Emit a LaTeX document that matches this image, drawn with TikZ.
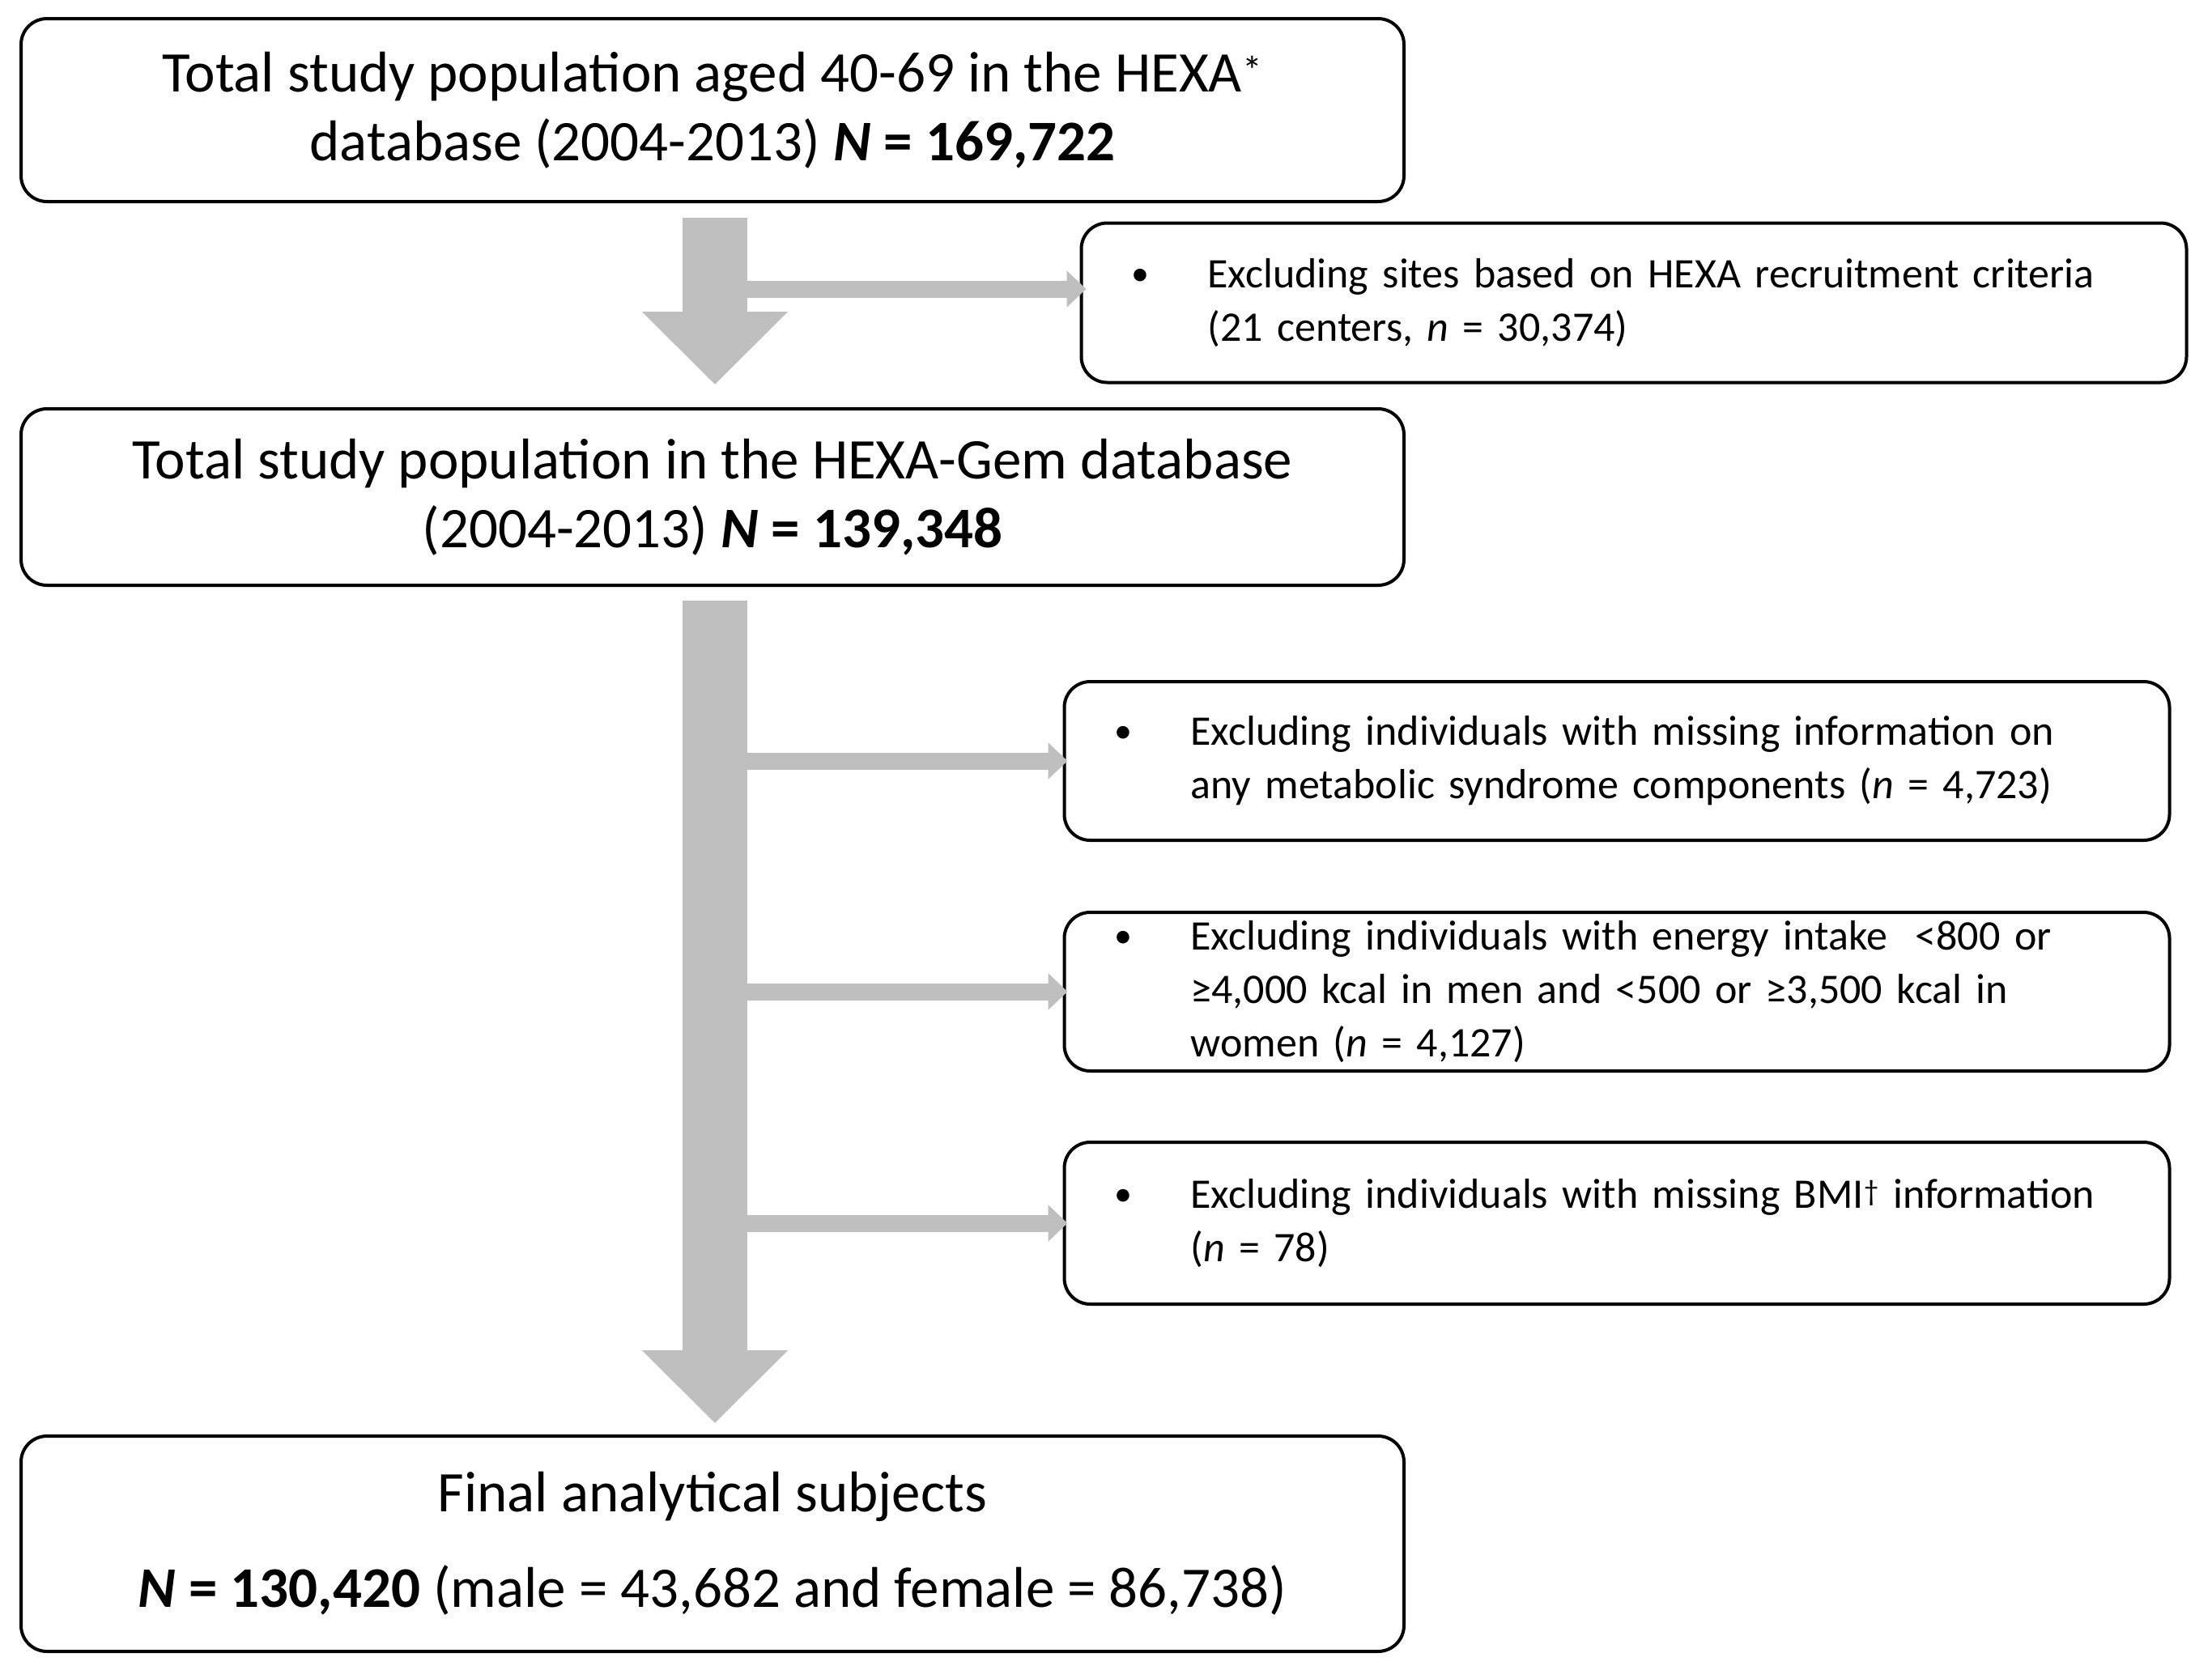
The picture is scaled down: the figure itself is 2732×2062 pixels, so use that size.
\documentclass[tikz,border=0pt]{standalone}
\usepackage{fontspec}
\setmainfont{Carlito}
\usetikzlibrary{arrows.meta,calc}
\definecolor{arrowgray}{HTML}{BFBFBF}
\tikzset{
 mainbox/.style={draw=black, line width=4pt, rounded corners=32pt, minimum width=1708pt, inner xsep=20pt, inner ysep=10pt, align=center, font=\fontsize{71}{85}\selectfont},
 exbox/.style={draw=black, line width=4pt, rounded corners=32pt, minimum width=1365pt, minimum height=196pt, inner xsep=60pt, inner ysep=10pt, text width=1245pt, align=left, font=\fontsize{52}{66}\selectfont},
 bigarrow/.style={draw=arrowgray, line width=80pt, -{Triangle[width=175pt,length=90pt,fill=arrowgray]}},
 sidearrow/.style={draw=arrowgray, line width=21pt, -{Triangle[width=44pt,length=24pt,fill=arrowgray]}},
}
\newcommand{\bul}{\makebox[96pt][l]{\hspace*{2pt}{\fontsize{44}{44}\selectfont\raisebox{3pt}{•}}}}
\newcommand{\ind}{\hspace*{96pt}}
\begin{document}
\begin{tikzpicture}[x=1pt,y=-1pt]
\useasboundingbox[fill=white] (0,0) rectangle (2732,2062);
\node[mainbox, minimum height=226pt] (b1) at (880,136) {Total study population aged 40-69 in the HEXA\textsuperscript{*}\\database (2004-2013) \textbf{\textit{N} = 169,722}};
\node[exbox, minimum width=1363pt, minimum height=197pt] (b2) at (2018,374) {\bul Excluding sites based on HEXA recruitment criteria\\\ind(21 centers, \textit{n} = 30,374)};
\node[mainbox, minimum height=218pt] (b3) at (880,614) {Total study population in the HEXA-Gem database\\(2004-2013) \textbf{\textit{N} = 139,348}};
\node[exbox] (b4) at (1997,940) {\bul Excluding individuals with missing information on\\\ind any metabolic syndrome components (\textit{n} = 4,723)};
\node[exbox] (b5) at (1997,1225) {\bul Excluding individuals with energy intake \ <800 or\\\ind ≥4,000 kcal in men and <500 or ≥3,500 kcal in\\\ind women (\textit{n} = 4,127)};
\node[exbox, minimum height=200pt] (b6) at (1997,1511) {\bul Excluding individuals with missing BMI\textsuperscript{†} information\\\ind(\textit{n} = 78)};
\node[mainbox, minimum height=266pt] (b7) at (880,1907) {Final analytical subjects\\[33pt]\textbf{\textit{N} = 130,420} (male = 43,682 and female = 86,738)};
\draw[sidearrow] ($(b1.south |- b2.west)+(3,-17)$) -- ($(b2.west)+(8,-17)$);
\draw[sidearrow] ($(b3.south |- b4.west)+(3,0)$) -- ($(b4.west)+(6,0)$);
\draw[sidearrow] ($(b3.south |- b5.west)+(3,0)$) -- ($(b5.west)+(6,0)$);
\draw[sidearrow] ($(b3.south |- b6.west)+(3,0)$) -- ($(b6.west)+(6,0)$);
\draw[bigarrow, shorten <=18pt, shorten >=28pt] ($(b1.south)+(3,0)$) -- ($(b3.north)+(3,0)$);
\draw[bigarrow, shorten <=17pt, shorten >=14pt] ($(b3.south)+(3,0)$) -- ($(b7.north)+(3,0)$);
\end{tikzpicture}
\end{document}
